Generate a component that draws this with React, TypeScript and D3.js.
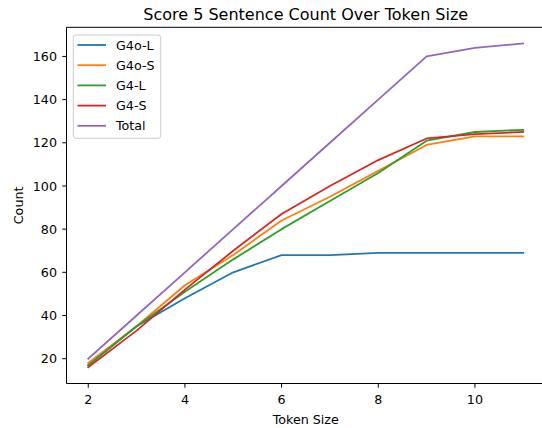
import React from "react";
import * as d3 from "d3";

const tokenSizes = [2, 3, 4, 5, 6, 7, 8, 9, 10, 11];
const g4oL = [17, 35, 48, 60, 68, 68, 69, 69, 69, 69];
const g4oS = [18, 35, 54, 68, 84, 95, 107, 119, 123, 123];
const g4L = [17, 35, 51, 66, 80, 93, 106, 121, 125, 126];
const g4S = [16, 33, 52, 70, 87, 100, 112, 122, 124, 125];
const total = [20, 40, 60, 80, 100, 120, 140, 160, 164, 166];
const xTicks = [2, 4, 6, 8, 10];
const yTicks = [20, 40, 60, 80, 100, 120, 140, 160];

const series = [
  { name: "G4o-L", values: g4oL, color: "#1f77b4" },
  { name: "G4o-S", values: g4oS, color: "#ff7f0e" },
  { name: "G4-L", values: g4L, color: "#2ca02c" },
  { name: "G4-S", values: g4S, color: "#d62728" },
  { name: "Total", values: total, color: "#9467bd" },
];

const W = 542;
const H = 428;
const left = 66.5;
const right = 545;
const top = 27.3;
const bottom = 383.5;
const font = "DejaVu Sans, sans-serif";
const fs = 12.7;

export default function App() {
  const x = d3.scaleLinear().domain([1.55, 11.45]).range([left, right]);
  const y = d3.scaleLinear().domain([8.5, 173.5]).range([bottom, top]);
  const line = d3
    .line<number>()
    .x((_, i) => x(tokenSizes[i]))
    .y((d) => y(d));

  return (
    <svg
      width={W}
      height={H}
      style={{ position: "absolute", left: 0, top: 0, background: "#fff" }}
      fontFamily={font}
    >
      <rect x={0} y={0} width={W} height={H} fill="#fff" />
      <text x={(left + right) / 2} y={19.5} textAnchor="middle" fontSize={16} fill="#000">
        Score 5 Sentence Count Over Token Size
      </text>
      <defs>
        <clipPath id="plot">
          <rect x={left} y={top} width={right - left} height={bottom - top} />
        </clipPath>
      </defs>
      <g clipPath="url(#plot)">
        {series.map((s) => (
          <path
            key={s.name}
            d={line(s.values) || ""}
            fill="none"
            stroke={s.color}
            strokeWidth={1.8}
            strokeLinejoin="round"
            strokeLinecap="square"
          />
        ))}
      </g>
      {/* spines */}
      <line x1={left} x2={left} y1={top} y2={bottom} stroke="#000" strokeWidth={1} />
      <line x1={left} x2={right} y1={bottom} y2={bottom} stroke="#000" strokeWidth={1} />
      <line x1={left} x2={right} y1={top} y2={top} stroke="#000" strokeWidth={1} />
      <line x1={right} x2={right} y1={top} y2={bottom} stroke="#000" strokeWidth={1} />
      {/* x ticks */}
      {xTicks.map((t) => (
        <g key={"x" + t}>
          <line x1={x(t)} x2={x(t)} y1={bottom} y2={bottom + 4.2} stroke="#000" strokeWidth={1} />
          <text x={x(t)} y={403.5} textAnchor="middle" fontSize={fs} fill="#000">
            {t}
          </text>
        </g>
      ))}
      {/* y ticks */}
      {yTicks.map((t) => (
        <g key={"y" + t}>
          <line x1={left - 4.2} x2={left} y1={y(t)} y2={y(t)} stroke="#000" strokeWidth={1} />
          <text x={57} y={y(t)} dy="0.36em" textAnchor="end" fontSize={fs} fill="#000">
            {t}
          </text>
        </g>
      ))}
      <text x={(left + right) / 2} y={423.5} textAnchor="middle" fontSize={fs} fill="#000">
        Token Size
      </text>
      <text
        transform={`translate(22.5, ${(top + bottom) / 2}) rotate(-90)`}
        textAnchor="middle"
        fontSize={fs}
        fill="#000"
      >
        Count
      </text>
      {/* legend */}
      <rect
        x={73.3}
        y={35}
        width={87.4}
        height={103.3}
        rx={2.5}
        fill="#fff"
        fillOpacity={0.8}
        stroke="#cccccc"
        strokeWidth={1}
      />
      {series.map((s, i) => (
        <g key={"lg" + s.name}>
          <line
            x1={77.5}
            x2={106}
            y1={45 + i * 20.2}
            y2={45 + i * 20.2}
            stroke={s.color}
            strokeWidth={1.8}
          />
          <text x={116} y={45 + i * 20.2} dy="0.36em" fontSize={fs} fill="#000">
            {s.name}
          </text>
        </g>
      ))}
    </svg>
  );
}
